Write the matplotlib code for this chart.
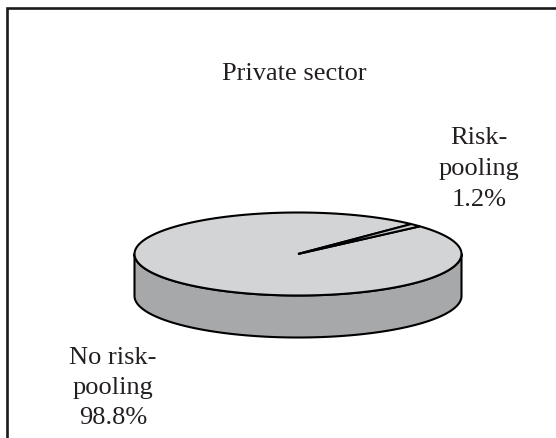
import numpy as np
import matplotlib
matplotlib.use("Agg")
import matplotlib.pyplot as plt
from matplotlib.patches import Polygon

# Chart content
title = "Private sector"
categories = ["No risk-\npooling", "Risk-\npooling"]
shares = [98.8, 1.2]  # percent

top_color = "#d3d4d6"
side_color = "#a7a8aa"

plt.rcParams["font.family"] = ["Liberation Serif", "DejaVu Serif"]

fig = plt.figure(figsize=(5.56, 4.38), dpi=100)
ax = fig.add_axes([0, 0, 1, 1])
ax.set_xlim(0, 556)
ax.set_ylim(438, 0)
ax.axis("off")

# Frame (top and left edges visible)
ax.plot([7, 7, 556], [438, 7.5, 7.5], color="#1a1a1a", lw=1.9,
        solid_joinstyle="miter", solid_capstyle="butt")

# 3-D pie geometry
cx, cy = 298, 254
rx, ry = 163.5, 41.5
depth = 42


def arc(t0, t1, n=200, dy=0.0):
    t = np.radians(np.linspace(t0, t1, n))
    return np.column_stack([cx + rx * np.cos(t), cy - ry * np.sin(t) + dy])


# Side wall (front half of the disc)
front = arc(180, 360)
bottom = arc(360, 180, dy=depth)
ax.add_patch(Polygon(np.vstack([front, bottom]), closed=True,
                     facecolor=side_color, edgecolor="black", lw=1.5,
                     joinstyle="round"))

# Top face wedges, built from the shares
total = sum(shares)
small_mid = 44.0
start = small_mid - shares[1] / total * 360 / 2
angles = [start + shares[1] / total * 360]
angles.append(angles[0] + shares[0] / total * 360)
bounds = [(angles[0], angles[1]), (start, angles[0])]
for (a0, a1) in bounds:
    pts = np.vstack([[cx, cy], arc(a0, a1)])
    ax.add_patch(Polygon(pts, closed=True, facecolor=top_color,
                         edgecolor="black", lw=1.5, joinstyle="miter"))

# Title and labels
txt = dict(fontsize=19, color="#231f20", ha="center")
ax.text(294, 80, title, va="baseline", **txt)
ax.text(113, 388, f"{categories[0]}\n{shares[0]:.1f}%", va="center",
        linespacing=1.5, **txt)
ax.text(479, 169, f"{categories[1]}\n{shares[1]:.1f}%", va="center",
        linespacing=1.5, **txt)

fig.savefig("out.png", dpi=100, facecolor="white")
